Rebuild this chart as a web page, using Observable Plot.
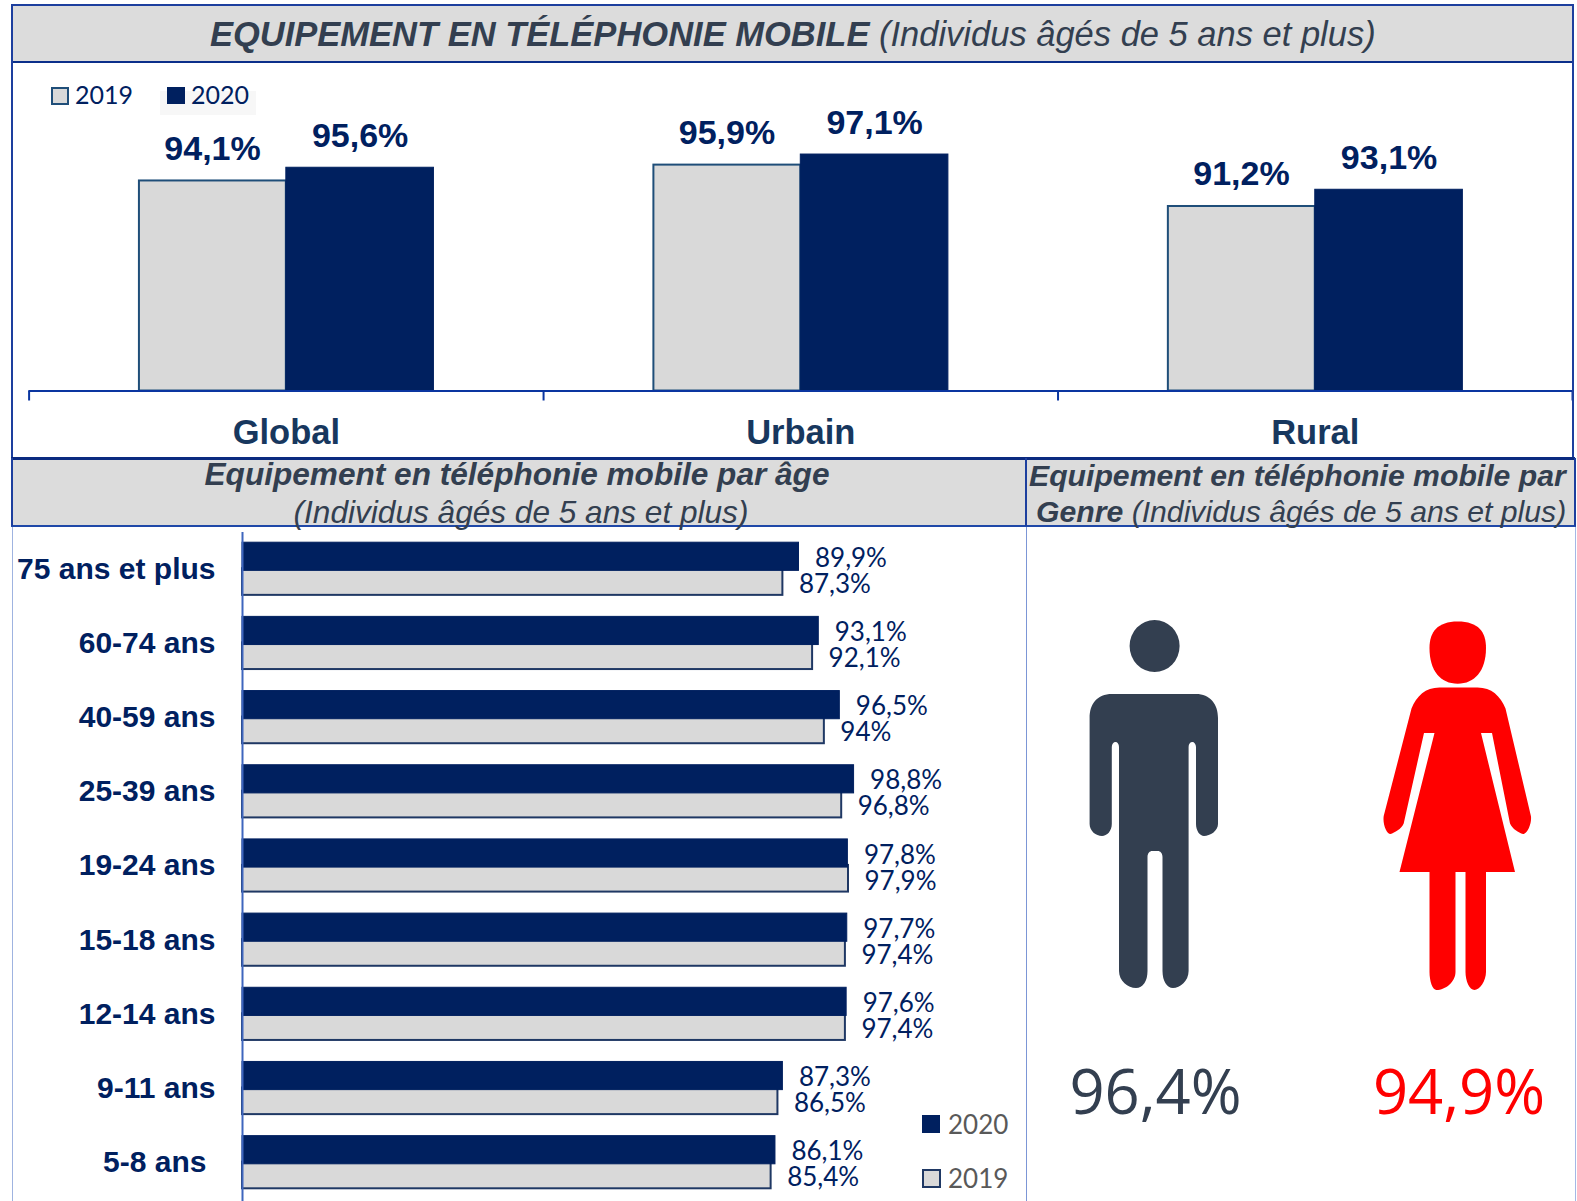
<!DOCTYPE html>
<html lang="fr">
<head>
<meta charset="utf-8">
<script src="https://cdn.jsdelivr.net/npm/d3@7"></script>
<script src="https://cdn.jsdelivr.net/npm/@observablehq/plot@0.6"></script>
<style>
html,body{margin:0;padding:0;background:#fff;}
#page{position:relative;width:1577px;height:1201px;overflow:hidden;font-family:"Liberation Sans",Arial,sans-serif;background:#fff;}
.abs{position:absolute;}
.hd{position:absolute;white-space:nowrap;color:#333F50;font-style:italic;line-height:1;}
.lg{position:absolute;white-space:nowrap;font-family:Lato,sans-serif;line-height:1;}
.sw{position:absolute;width:16px;height:16px;box-sizing:border-box;}
.plot{position:absolute;}
</style>
</head>
<body>
<div id="page"></div>
<script>
const areas = ["Global", "Urbain", "Rural"];
const areas2019 = [94.1, 95.9, 91.2];
const areas2020 = [95.6, 97.1, 93.1];

const ages = ["75 ans et plus", "60-74 ans", "40-59 ans", "25-39 ans", "19-24 ans", "15-18 ans", "12-14 ans", "9-11 ans", "5-8 ans"];
const ages2020 = [89.9, 93.1, 96.5, 98.8, 97.8, 97.7, 97.6, 87.3, 86.1];
const ages2019 = [87.3, 92.1, 94, 96.8, 97.9, 97.4, 97.4, 86.5, 85.4];

const genders = ["Homme", "Femme"];
const genderValues = [96.4, 94.9];
const genderColors = ["#333F50", "#FF0000"];
const iconShift = [0, -2];
const iconHeads = [
  "M-25.4 120a25 26 0 1 0 50 0a25 26 0 1 0 -50 0Z",
  "M1.2 95.5C22 95.5 29.5 106 29.5 122C29.5 145 18 157.7 1.2 157.7C-16 157.7 -27 145 -27 122C-27 106 -19 95.5 1.2 95.5Z"
];
const iconBodies = [
  "M-43 168H41C55 168 63 178 63 192V298C63 305 55 310 49 310C45 310 41 305 41 298V221C41 218 39 216 37.5 216C35 216 33.6 218 33.6 221V445C33.6 455 25 462 18 462C12 462 7.5 455 7.5 445V331C7.5 327 5 325 3 325H-3C-5 325 -7.5 327 -7.5 331V445C-7.5 455 -12 462 -19 462C-27 462 -36 455 -36 445V221C-36 218 -37.5 216 -39.5 216C-41.5 216 -43.2 218 -43.2 221V298C-43.2 305 -48 310 -53 310C-59 310 -65.4 305 -65.4 298V192C-65.4 178 -58 168 -43 168Z",
  "M-17 161.5H21C35 161.5 44 170 49 182.6L74.4 290C75.5 297 71 308 66.5 308C62 307 56 303 53.5 297.6L35.5 207H24.5L58.5 346H29.5V446C29.5 455 23 464 18 464C13 464 9 455 9 446V346H-1V446C-1 456 -11 464 -20 464C-24 464 -27 455 -27 446V346H-57L-22 207H-32.5L-52.8 297.6C-55 303 -62 307 -66 308C-70 308 -74 298 -72.8 290L-45 182.6C-40 170 -31 161.5 -17 161.5Z"
];

const navy = "#00205F", grey = "#D9D9D9", edge = "#1F4E79", rule = "#0A35A0";
const pct = d => String(d).replace(".", ",") + "%";
const page = document.getElementById("page");

function box(l, t, w, h, css) {
  const e = document.createElement("div");
  e.className = "abs";
  e.style.cssText = `left:${l}px;top:${t}px;width:${w}px;height:${h}px;${css}`;
  page.appendChild(e);
}
function html(cls, l, t, inner, css) {
  const e = document.createElement("div");
  e.className = cls;
  e.style.cssText = `left:${l}px;top:${t}px;${css || ""}`;
  e.innerHTML = inner;
  page.appendChild(e);
}
function place(svg, l, t) {
  svg.classList && svg.classList.add("plot");
  svg.style.position = "absolute";
  svg.style.left = l + "px";
  svg.style.top = t + "px";
  page.appendChild(svg);
}

/* panel backgrounds and frames */
box(12, 5, 1561, 57, "background:#DCDCDC;");
box(12, 458, 1014, 68, "background:#DCDCDC;");
box(1026, 458, 549, 68, "background:#DCDCDC;");

/* top chart */
const groupW = (1572 - 28.6) / 3;
const barW = 147.6;
const rows = areas.map((a, i) => ({a, v19: areas2019[i], v20: areas2020[i]}));
const topPlot = Plot.plot({
  width: 1577, height: 396,
  marginLeft: 28.6, marginRight: 5, marginTop: 66.5, marginBottom: 67.5,
  style: {background: "transparent", overflow: "visible", fontFamily: "Liberation Sans, Arial, sans-serif"},
  x: {domain: areas, padding: 0, round: false, axis: null},
  y: {domain: [70.25, 100], axis: null},
  marks: [
    Plot.barY(rows, {x: "a", y1: 70.25, y2: "v19", fill: grey, stroke: edge, strokeWidth: 2,
      insetLeft: groupW / 2 - barW + 0.7, insetRight: groupW / 2}),
    Plot.barY(rows, {x: "a", y1: 70.25, y2: "v20", fill: navy, stroke: navy, strokeWidth: 1,
      insetLeft: groupW / 2, insetRight: groupW / 2 - barW}),
    Plot.text(rows, {x: "a", y: "v19", text: d => pct(d.v19), dx: -barW / 2, dy: -21, lineAnchor: "bottom",
      fontSize: 34, fontWeight: "bold", fill: navy}),
    Plot.text(rows, {x: "a", y: "v20", text: d => pct(d.v20), dx: barW / 2, dy: -21, lineAnchor: "bottom",
      fontSize: 34, fontWeight: "bold", fill: navy}),
    Plot.ruleY([70.25], {stroke: rule, strokeWidth: 2}),
    Plot.axisX({anchor: "bottom", tickSize: 10, fill: "none", stroke: rule, strokeWidth: 2, dx: -groupW / 2, label: null}),
    Plot.axisX(areas.slice(-1), {anchor: "bottom", tickSize: 10, fill: "none", stroke: rule, strokeWidth: 2, dx: groupW / 2, label: null}),
    Plot.axisX({anchor: "bottom", tickSize: 0, tickPadding: 28, fontSize: 34.5, fontWeight: "bold", fill: "#17375E", label: null})
  ]
});
place(topPlot, 0, 62);

/* age chart */
const ageRows = ages.map((a, i) => ({a, v20: ages2020[i], v19: ages2019[i]}));
const agePlot = Plot.plot({
  width: 1026, height: 675,
  marginLeft: 242, marginRight: 165, marginTop: 6, marginBottom: 0,
  style: {background: "transparent", overflow: "visible", fontFamily: "Lato, sans-serif"},
  x: {domain: [0, 100], axis: null},
  y: {domain: ages, range: [16.2, 662.3], paddingInner: 0.29, paddingOuter: 0, round: false, axis: null},
  marks: [
    Plot.barX(ageRows, {y: "a", x: "v19", fill: grey, stroke: "#1F3864", strokeWidth: 2, insetTop: 26, insetBottom: 0}),
    Plot.barX(ageRows, {y: "a", x: "v20", fill: navy, stroke: navy, strokeWidth: 1, insetTop: 0, insetBottom: 24.5}),
    Plot.ruleX([0], {stroke: "#3F66BE", strokeWidth: 2}),
    Plot.text(ageRows, {y: "a", x: "v20", text: d => pct(d.v20), dx: 16, dy: -10.5, textAnchor: "start", fontSize: 26, fill: navy}),
    Plot.text(ageRows, {y: "a", x: "v19", text: d => pct(d.v19), dx: 16, dy: 15.5, textAnchor: "start", fontSize: 26, fill: navy}),
    Plot.axisY(ages.slice(0, -1), {anchor: "left", tickSize: 0, tickPadding: 27, fontSize: 30, fontWeight: "bold",
      fontFamily: "Liberation Sans, Arial, sans-serif", fill: navy, label: null}),
    Plot.axisY(ages.slice(-1), {anchor: "left", tickSize: 0, tickPadding: 36, fontSize: 30, fontWeight: "bold",
      fontFamily: "Liberation Sans, Arial, sans-serif", fill: navy, label: null})
  ]
});
place(agePlot, 0, 526);

/* gender panel */
const genderRows = genders.map((g, i) => ({g, v: genderValues[i], c: genderColors[i], head: iconHeads[i], body: iconBodies[i], shift: iconShift[i]}));
const genderPlot = Plot.plot({
  width: 551, height: 675,
  margin: 0,
  style: {background: "transparent", overflow: "visible", fontFamily: "Open Sans, sans-serif"},
  x: {type: "point", domain: genders, range: [129, 432.5], padding: 0, round: false, axis: null},
  marks: [
    (index, {x}) => {
      const g = d3.create("svg:g");
      for (const r of genderRows) {
        const t = g.append("g").attr("transform", `translate(${x(r.g) + r.shift},0)`).attr("fill", r.c);
        t.append("path").attr("d", r.head);
        t.append("path").attr("d", r.body);
      }
      return g.node();
    },
    Plot.text(genderRows, {x: "g", frameAnchor: "top", dy: 544, text: d => pct(d.v), fill: "c", fontSize: 61.5, fontWeight: 400})
  ]
});
place(genderPlot, 1026, 526);

/* frames */
const L = "#1D3F9E";
box(11, 4, 1563, 2, `background:${L};`);
box(11, 61, 1563, 2, `background:#0B2F8A;`);
box(11, 5, 2, 454, `background:${L};`);
box(1572, 5, 2, 454, `background:${L};`);
box(11, 457, 1564, 3, `background:#0B2A80;`);
box(11, 525, 1565, 2, `background:#1F48A8;`);
box(11, 458, 2, 68, `background:${L};`);
box(1025, 458, 2, 68, `background:${L};`);
box(1574, 458, 2, 68, `background:${L};`);
box(12, 527, 1, 674, "background:#9FB3E0;");
box(1026, 527, 1, 674, "background:#7C96D6;");
box(1575, 527, 1, 674, "background:#A5B8E5;");

/* titles */
html("hd", 210, 17, `<b>EQUIPEMENT EN TÉLÉPHONIE MOBILE</b> (Individus âgés de 5 ans et plus)`, "font-size:34.5px;");
html("hd", 517, 459, `<b>Equipement en téléphonie mobile par âge</b>`, "font-size:31.6px;transform:translateX(-50%);");
html("hd", 521, 497, `(Individus âgés de 5 ans et plus)`, "font-size:31.6px;transform:translateX(-50%);");
html("hd", 1029, 461, `<b>Equipement en téléphonie mobile par</b>`, "font-size:30.2px;");
html("hd", 1036, 497, `<b>Genre</b> <span>(Individus âgés de 5 ans et plus)</span>`, "font-size:30.2px;");

/* legends */
box(160, 91, 96, 24, "background:#F7F7F7;");
html("sw", 51, 87, "", `width:18px;height:18px;background:${grey};border:2px solid ${edge};`);
html("lg", 75, 82, "2019", `font-size:25px;color:${navy};`);
html("sw", 167, 87, "", `width:18px;height:17px;background:${navy};`);
html("lg", 191, 82, "2020", `font-size:25px;color:${navy};`);

html("sw", 922, 1115, "", `width:18px;height:18px;background:${navy};`);
html("lg", 948, 1111, "2020", "font-size:26px;color:#595959;");
html("sw", 922, 1169, "", `width:19px;height:19px;background:${grey};border:2px solid #1F3864;`);
html("lg", 948, 1165, "2019", "font-size:26px;color:#595959;");
</script>
</body>
</html>
